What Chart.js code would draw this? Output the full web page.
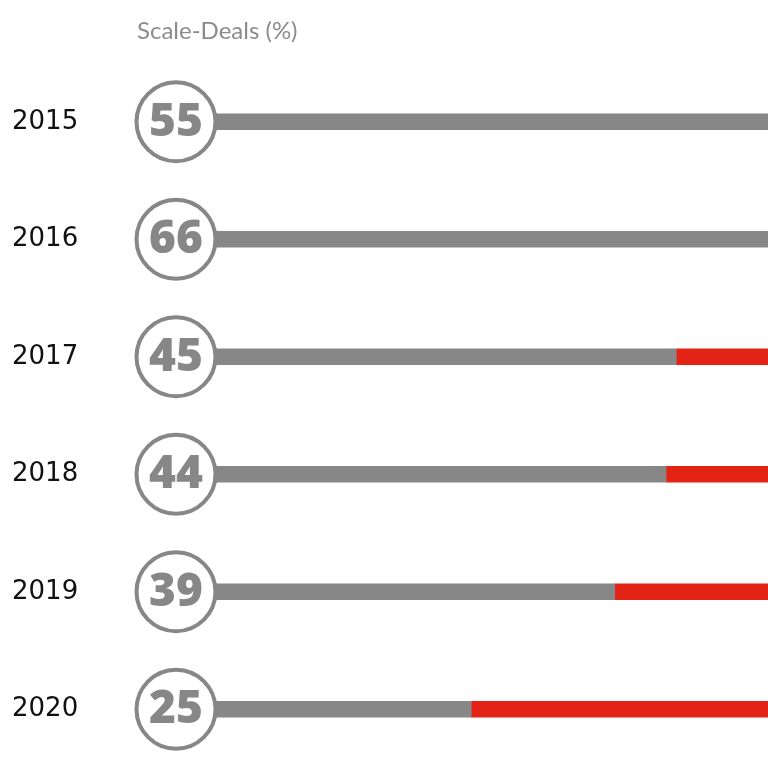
<!DOCTYPE html>
<html>
<head>
<meta charset="utf-8">
<script src="https://cdn.jsdelivr.net/npm/chart.js@4"></script>
<style>
  html, body { margin: 0; padding: 0; background: #ffffff; }
  #wrap { width: 768px; height: 768px; }
</style>
</head>
<body>
<div id="wrap"><canvas id="chart"></canvas></div>
<script>
  // Data
  const years = ['2015', '2016', '2017', '2018', '2019', '2020'];
  const scaleDeals = [55, 66, 45, 44, 39, 25];
  const otherDeals = scaleDeals.map(v => 100 - v);
  const titleText = 'Scale-Deals (%)';

  // Colors
  const colors = {
    gray: '#878787',
    red: '#e32315',
    year: '#111111',
    title: '#8c8c8c'
  };

  // Circles with the values, plus the header text
  const circlePlugin = {
    id: 'circles',
    afterDatasetsDraw(chart) {
      const ctx = chart.ctx;
      const yScale = chart.scales.y;
      ctx.save();
      scaleDeals.forEach((value, i) => {
        const cy = yScale.getPixelForValue(i);
        const cx = 176;
        ctx.beginPath();
        ctx.arc(cx, cy, 39.5, 0, Math.PI * 2);
        ctx.fillStyle = '#ffffff';
        ctx.fill();
        ctx.lineWidth = 4;
        ctx.strokeStyle = colors.gray;
        ctx.stroke();

        ctx.fillStyle = colors.gray;
        ctx.font = '800 46px "Open Sans"';
        ctx.textAlign = 'center';
        ctx.textBaseline = 'middle';
        ctx.fillText(String(value), cx, cy + 1);
      });

      ctx.fillStyle = colors.title;
      ctx.font = '24px Lato';
      ctx.textAlign = 'left';
      ctx.textBaseline = 'middle';
      ctx.fillText(titleText, 137, 31);
      ctx.restore();
    }
  };

  const ctx = document.getElementById('chart').getContext('2d');
  new Chart(ctx, {
    type: 'bar',
    data: {
      labels: years,
      datasets: [
        {
          label: 'Scale-Deals',
          data: scaleDeals,
          backgroundColor: colors.gray,
          barThickness: 16
        },
        {
          label: 'Other',
          data: otherDeals,
          backgroundColor: colors.red,
          barThickness: 16
        }
      ]
    },
    options: {
      indexAxis: 'y',
      responsive: true,
      maintainAspectRatio: false,
      animation: false,
      layout: {
        padding: { left: 12, right: 0, top: 63, bottom: 0 }
      },
      scales: {
        x: {
          stacked: true,
          display: false,
          min: 0,
          max: 53.95
        },
        y: {
          stacked: true,
          grid: { display: false },
          border: { display: false },
          afterFit(axis) {
            axis.width = 203;
            axis.paddingTop = 0;
            axis.paddingBottom = 0;
          },
          ticks: {
            crossAlign: 'far',
            color: colors.year,
            font: { family: 'DejaVu Sans', size: 26 }
          }
        }
      },
      plugins: {
        legend: { display: false },
        tooltip: { enabled: false }
      }
    },
    plugins: [circlePlugin]
  });
</script>
</body>
</html>
